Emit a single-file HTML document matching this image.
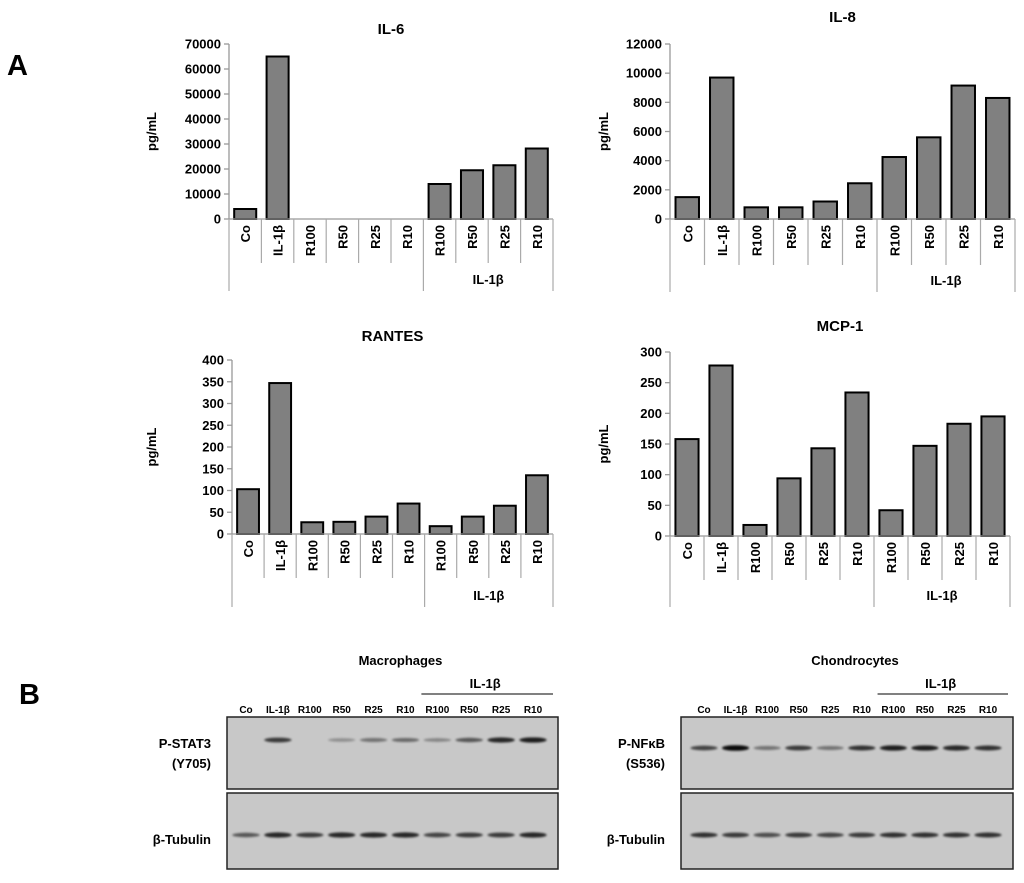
<!DOCTYPE html>
<html><head><meta charset="utf-8"><style>
body{margin:0;background:#fff;font-family:"Liberation Sans",sans-serif}
svg text{font-family:"Liberation Sans",sans-serif;font-weight:bold}
</style></head><body>
<svg id="fig" width="1024" height="878" viewBox="0 0 1024 878" xmlns="http://www.w3.org/2000/svg">
<defs><filter id="bl" x="-20%" y="-200%" width="140%" height="500%"><feGaussianBlur stdDeviation="1.1"/></filter></defs>
<text x="7" y="75" font-size="29">A</text>
<text x="19" y="704" font-size="29">B</text>
</svg>
<script>
const categories=["Co","IL-1β","R100","R50","R25","R10","R100","R50","R25","R10"];
const il6Values=[4000,65000,0,0,0,0,14000,19500,21500,28200];
const il6Ticks=[0,10000,20000,30000,40000,50000,60000,70000];
const il8Values=[1500,9700,800,800,1200,2450,4250,5600,9150,8300];
const il8Ticks=[0,2000,4000,6000,8000,10000,12000];
const rantesValues=[103,347,27,28,40,70,18,40,65,135];
const rantesTicks=[0,50,100,150,200,250,300,350,400];
const mcp1Values=[158,278,18,94,143,234,42,147,183,195];
const mcp1Ticks=[0,50,100,150,200,250,300];
const lanes=["Co","IL-1β","R100","R50","R25","R10","R100","R50","R25","R10"];
const stat3Intensity=[0,0.75,0,0.3,0.45,0.5,0.35,0.6,0.85,0.9];
const tubMacIntensity=[0.6,0.85,0.75,0.85,0.85,0.85,0.7,0.75,0.75,0.85];
const nfkbIntensity=[0.7,1,0.45,0.75,0.45,0.8,0.9,0.9,0.85,0.8];
const tubChoIntensity=[0.8,0.75,0.65,0.75,0.7,0.75,0.8,0.8,0.8,0.8];

const NS="http://www.w3.org/2000/svg";
const svg=document.getElementById('fig');
function mk(tag,attrs,parent){const e=document.createElementNS(NS,tag);for(const k in attrs)e.setAttribute(k,attrs[k]);(parent||svg).appendChild(e);return e;}

function chart(name,title,values,ticks,L,R,T,B,tableB,outerB,titleY,ylabX){
  const g=mk('g',{});
  
  
  const max=ticks[ticks.length-1];
  const y=v=>B-(v/max)*(B-T);
  const slot=(R-L)/categories.length;
  const t=mk('text',{x:(L+R)/2,y:titleY,'font-size':15,'text-anchor':'middle'},g);t.textContent=title;
  
  
  const yl=mk('text',{x:0,y:0,'font-size':13,'text-anchor':'middle',transform:`translate(${ylabX},${(T+B)/2}) rotate(-90)`},g);yl.textContent='pg/mL';
  
  
  ticks.forEach(v=>{
    mk('line',{x1:L-5,x2:L,y1:y(v),y2:y(v),stroke:'#999','stroke-width':1.3},g);
    const tl=mk('text',{x:L-8,y:y(v)+4.5,'font-size':13,'text-anchor':'end'},g);tl.textContent=v;
    
    
  });
  mk('line',{x1:L,x2:L,y1:T,y2:B,stroke:'#999','stroke-width':1.3},g);
  values.forEach((v,i)=>{
    const bw=slot*0.68, x=L+i*slot+(slot-bw)/2;
    const r=mk('rect',{x:x,y:y(v),width:bw,height:B-y(v),fill:'#808080',stroke:'#000','stroke-width':2},g);
    
    
  });
  mk('line',{x1:L,x2:R,y1:B,y2:B,stroke:'#999','stroke-width':1.3},g);
  for(let i=0;i<=categories.length;i++){
    const x=L+i*slot;
    const full=(i===0||i===6||i===10);
    mk('line',{x1:x,x2:x,y1:B,y2:full?outerB:tableB,stroke:'#aaa','stroke-width':1.2},g);
  }
  categories.forEach((c,i)=>{
    const cx=L+(i+0.5)*slot;
    const cl=mk('text',{x:0,y:0,'font-size':13,'text-anchor':'end',transform:`translate(${cx+5},${B+6}) rotate(-90)`},g);cl.textContent=c;
    
    
  });
  const gl=mk('text',{x:L+8*slot,y:outerB-7,'font-size':13,'text-anchor':'middle','font-weight':'normal'},g);gl.textContent='IL-1β';
  
  
}
chart('il6','IL-6',il6Values,il6Ticks,229,553,44,219,263,291,34,156);
chart('il8','IL-8',il8Values,il8Ticks,670,1015,44,219,265,292,22,608);
chart('rantes','RANTES',rantesValues,rantesTicks,232,553,360,534,578,607,341,156);
chart('mcp1','MCP-1',mcp1Values,mcp1Ticks,670,1010,352,536,580,607,331,608);

function blot(name,title,L,R,c0,c1,topInt,botInt,topLbl,topLbl2,bandYOff){
  const g=mk('g',{});
  
  
  const tt=mk('text',{x:(L+R)/2+8,y:665,'font-size':13,'text-anchor':'middle'},g);tt.textContent=title;
  
  
  const step=(c1-c0)/(lanes.length-1);
  mk('line',{x1:c0+5.5*step,x2:R-5,y1:694,y2:694,stroke:'#000','stroke-width':1},g);
  const gt=mk('text',{x:c0+7.5*step,y:688,'font-size':13,'text-anchor':'middle','font-weight':'normal'},g);gt.textContent='IL-1β';
  
  
  lanes.forEach((l,i)=>{
    const lt=mk('text',{x:c0+i*step,y:713,'font-size':10,'text-anchor':'middle'},g);lt.textContent=l;
    
    
  });
  [[717,789,topInt,748+bandYOff],[793,869,botInt,835]].forEach(([y0,y1,arr,by],k)=>{
    const r=mk('rect',{x:L,y:y0,width:R-L,height:y1-y0,fill:'#c8c8c8',stroke:'#222','stroke-width':1.5},g);
    
    
    arr.forEach((v,i)=>{
      if(v<=0)return;
      const e=mk('ellipse',{cx:c0+i*step,cy:by,rx:step*0.43,ry:1.3+v*1.5,fill:'#000',opacity:Math.min(1,v*0.95),filter:'url(#bl)'},g);
      
      
    });
  });
  const a=mk('text',{x:L-16,y:748,'font-size':13,'text-anchor':'end'},g);a.textContent=topLbl;
  
  
  const b=mk('text',{x:L-16,y:768,'font-size':13,'text-anchor':'end'},g);b.textContent=topLbl2;
  
  
  const c=mk('text',{x:L-16,y:844,'font-size':13,'text-anchor':'end'},g);c.textContent='β-Tubulin';
  
  
}
blot('macrophages','Macrophages',227,558,246,533,stat3Intensity,tubMacIntensity,'P-STAT3','(Y705)',-8);
blot('chondrocytes','Chondrocytes',681,1013,704,988,nfkbIntensity,tubChoIntensity,'P-NFκB','(S536)',0);
</script>
</body></html>
